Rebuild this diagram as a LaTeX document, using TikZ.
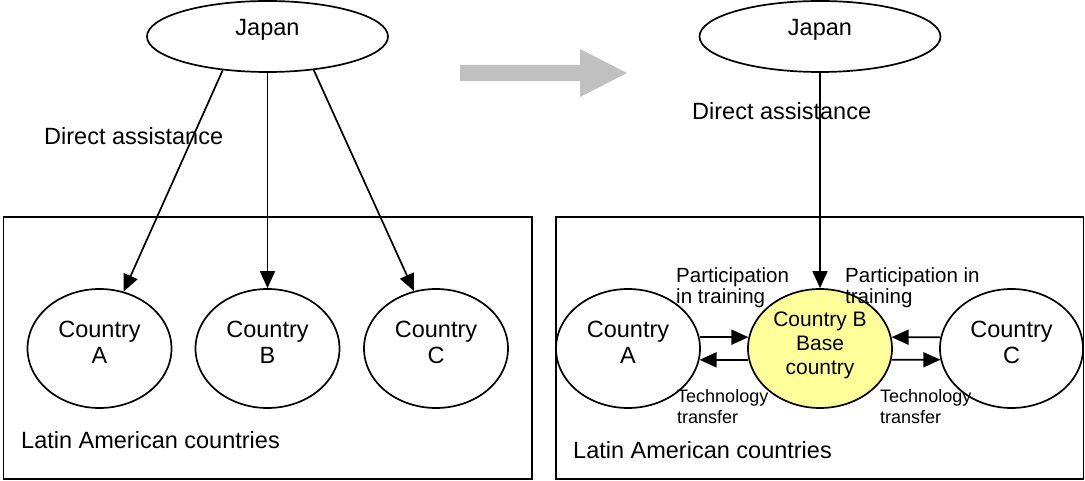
\documentclass[tikz,border=0pt]{standalone}
\usepackage{fontspec}
\setmainfont{Liberation Sans}
\usetikzlibrary{shapes.geometric,arrows.meta}
\definecolor{basefill}{RGB}{255,255,153}
\definecolor{shiftgray}{RGB}{192,192,192}
\begin{document}
\begin{tikzpicture}[x=1pt,y=-1pt,
  frame/.style={draw,line width=1.7pt},
  oval/.style={ellipse,draw,line width=1.7pt,inner sep=0pt,align=center,
    font=\fontsize{23.5}{26}\selectfont},
  bigoval/.style={oval,minimum width=241pt,minimum height=71pt,text depth=18pt},
  country/.style={oval,minimum width=144pt,minimum height=119pt},
  lbl/.style={inner sep=0pt,anchor=base west,font=\fontsize{23.5}{26}\selectfont},
  midlbl/.style={inner sep=0pt,anchor=north west,align=left,font=\fontsize{20.5}{21}\selectfont},
  smalllbl/.style={inner sep=0pt,anchor=north west,align=left,font=\fontsize{18}{20.5}\selectfont},
  flow/.style={line width=1.7pt,-{Triangle[length=17pt,width=15pt]}}]
\useasboundingbox (0,0) rectangle (1085,481);

% shift from direct assistance to the base-country scheme
\fill[shiftgray] (460,65) -- (580,65) -- (580,49) -- (627,73) -- (580,97)
  -- (580,81) -- (460,81) -- cycle;

% ---------- direct assistance ----------
\draw[frame] (3.5,217) rectangle (532,479);
\node[bigoval] (jL) at (267.5,36.5) {Japan};
\node[country] (A) at (99.5,348.5) {Country\\A\rule[-13pt]{0pt}{13pt}};
\node[country] (B) at (267.5,348.5) {Country\\B\rule[-13pt]{0pt}{13pt}};
\node[country] (C) at (436,348.5) {Country\\C\rule[-13pt]{0pt}{13pt}};
\node[lbl] (daL) at (44,145) {Direct assistance};
\node[lbl] (latL) at (21,448) {Latin American countries};
\draw[flow] (jL.217) -- (A.67);
\draw[flow] (jL.south) -- (B.north);
\draw[flow] (jL.-36) -- (C.111);

% ---------- base-country scheme ----------
\draw[frame] (556,217) rectangle (1083.5,479);
\node[bigoval] (jR) at (820,36.5) {Japan};
\node[country] (A2) at (628,348.5) {Country\\A\rule[-13pt]{0pt}{13pt}};
\node[country,fill=basefill,font=\fontsize{21}{24}\selectfont] (B2) at (820,348.5)
  {Country B\\Base\\country\rule[-11pt]{0pt}{11pt}};
\node[country,minimum width=143pt] (C2) at (1011.5,348.5) {Country\\C\rule[-13pt]{0pt}{13pt}};
\node[lbl] (daR) at (692,120) {Direct assistance};
\node[lbl] (latR) at (573,458.5) {Latin American countries};
\node[midlbl] (ptA) at (676,267.3) {Participation\\in training};
\node[midlbl] (ptC) at (845,267.3) {Participation in\\training};
\node[smalllbl] (ttA) at (677,389.6) {Technology\\transfer};
\node[smalllbl] (ttC) at (880,389.6) {Technology\\transfer};
\draw[flow] (jR.south) -- (B2.north);
\draw[flow] (A2.9) -- (B2.171);
\draw[flow] (B2.189) -- (A2.351);
\draw[flow] (C2.171) -- (B2.9);
\draw[flow] (B2.351) -- (C2.189);
\end{tikzpicture}
\end{document}
